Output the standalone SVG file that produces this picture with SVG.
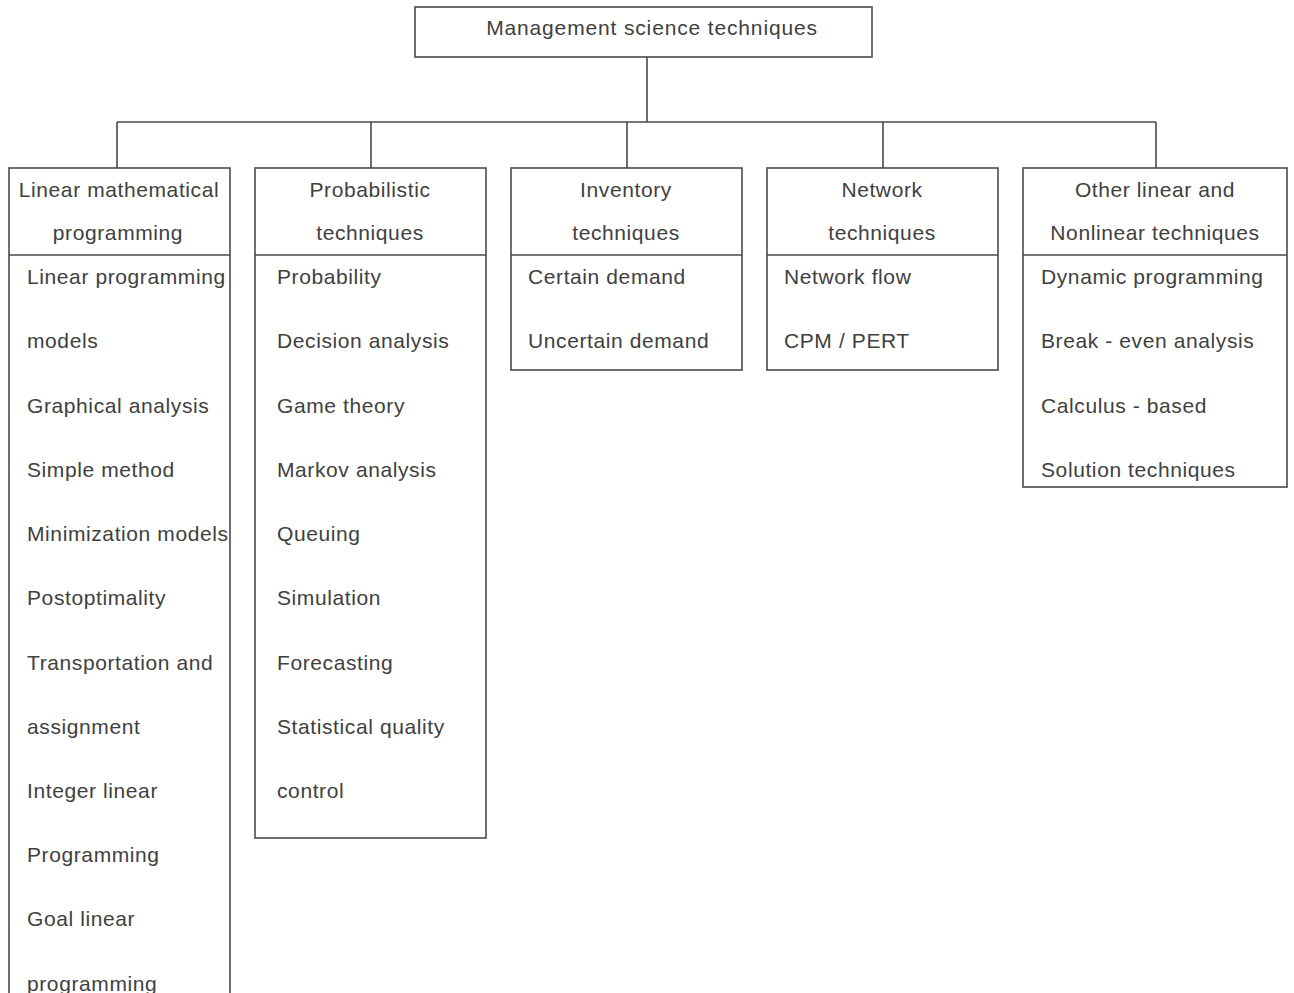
<svg xmlns="http://www.w3.org/2000/svg" width="1294" height="993" viewBox="0 0 1294 993">
<style>
rect.box{fill:none;stroke:#4a4a4a;stroke-width:1.6}
line{stroke:#4a4a4a;stroke-width:1.6}
text{font-family:"Liberation Sans",Arial,sans-serif;font-size:21px;fill:#404040;letter-spacing:0.6px}
.c{text-anchor:middle}
.wide{letter-spacing:0.85px}
</style>
<rect width="1294" height="993" fill="#ffffff"/>
<g id="connectors">
<line x1="647" y1="57" x2="647" y2="122"/>
<line x1="117" y1="122" x2="1156" y2="122"/>
<line x1="117" y1="122" x2="117" y2="168"/>
<line x1="371" y1="122" x2="371" y2="168"/>
<line x1="627" y1="122" x2="627" y2="168"/>
<line x1="883" y1="122" x2="883" y2="168"/>
<line x1="1156" y1="122" x2="1156" y2="168"/>
</g>
<g id="root">
<rect class="box" x="415" y="7" width="457" height="50"/>
<text class="c wide" x="652" y="35">Management science techniques</text>
</g>
<g id="linear">
<rect class="box" x="9" y="168" width="221" height="840"/>
<line x1="9" y1="255" x2="230" y2="255"/>
<text class="c" x="119" y="197">Linear mathematical</text>
<text class="c" x="118" y="240">programming</text>
<text x="27" y="284">Linear programming</text>
<text x="27" y="348">models</text>
<text x="27" y="413">Graphical analysis</text>
<text x="27" y="477">Simple method</text>
<text x="27" y="541">Minimization models</text>
<text x="27" y="605">Postoptimality</text>
<text x="27" y="670">Transportation and</text>
<text x="27" y="734">assignment</text>
<text x="27" y="798">Integer linear</text>
<text x="27" y="862">Programming</text>
<text x="27" y="926">Goal linear</text>
<text x="27" y="991">programming</text>
</g>
<g id="probabilistic">
<rect class="box" x="255" y="168" width="231" height="670"/>
<line x1="255" y1="255" x2="486" y2="255"/>
<text class="c" x="370" y="197">Probabilistic</text>
<text class="c" x="370" y="240">techniques</text>
<text x="277" y="284">Probability</text>
<text x="277" y="348">Decision analysis</text>
<text x="277" y="413">Game theory</text>
<text x="277" y="477">Markov analysis</text>
<text x="277" y="541">Queuing</text>
<text x="277" y="605">Simulation</text>
<text x="277" y="670">Forecasting</text>
<text x="277" y="734">Statistical quality</text>
<text x="277" y="798">control</text>
</g>
<g id="inventory">
<rect class="box" x="511" y="168" width="231" height="202"/>
<line x1="511" y1="255" x2="742" y2="255"/>
<text class="c" x="626" y="197">Inventory</text>
<text class="c" x="626" y="240">techniques</text>
<text x="528" y="284">Certain demand</text>
<text x="528" y="348">Uncertain demand</text>
</g>
<g id="network">
<rect class="box" x="767" y="168" width="231" height="202"/>
<line x1="767" y1="255" x2="998" y2="255"/>
<text class="c" x="882" y="197">Network</text>
<text class="c" x="882" y="240">techniques</text>
<text x="784" y="284">Network flow</text>
<text x="784" y="348">CPM / PERT</text>
</g>
<g id="other">
<rect class="box" x="1023" y="168" width="264" height="319"/>
<line x1="1023" y1="255" x2="1287" y2="255"/>
<text class="c" x="1155" y="197">Other linear and</text>
<text class="c" x="1155" y="240">Nonlinear techniques</text>
<text x="1041" y="284">Dynamic programming</text>
<text x="1041" y="348">Break - even analysis</text>
<text x="1041" y="413">Calculus - based</text>
<text x="1041" y="477">Solution techniques</text>
</g>
</svg>
